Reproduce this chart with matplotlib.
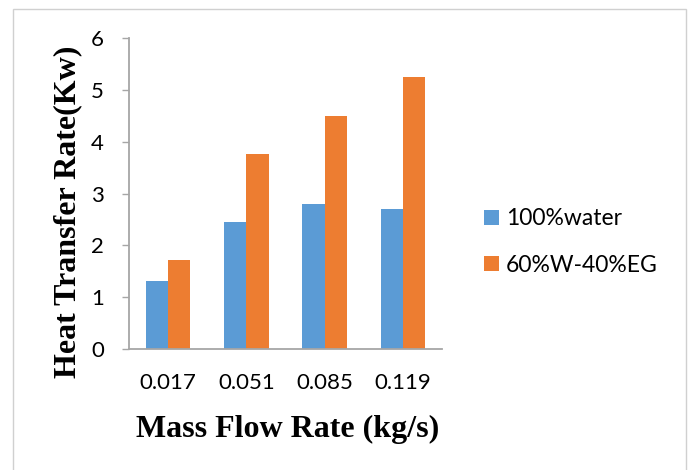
import matplotlib
matplotlib.use("Agg")
import matplotlib.pyplot as plt
from matplotlib.patches import Rectangle
import numpy as np

# data
flow_rates = ["0.017", "0.051", "0.085", "0.119"]
water = [1.32, 2.45, 2.80, 2.71]
w_eg = [1.71, 3.76, 4.50, 5.25]
series_names = ["100%water", "60%W-40%EG"]
y_ticks = [0, 1, 2, 3, 4, 5, 6]

blue = "#5B9BD5"
orange = "#ED7D31"
axis_grey = "#A6A6A6"

fig = plt.figure(figsize=(6.88, 4.70), dpi=100)
ax = fig.add_axes([0.1875, 0.2574, 0.4549, 0.6616])

x = np.arange(len(flow_rates))
w = 0.285
ax.bar(x - w / 2, water, width=w, color=blue, label=series_names[0])
ax.bar(x + w / 2, w_eg, width=w, color=orange, label=series_names[1])

ax.set_xlim(-0.5, len(flow_rates) - 0.5)
ax.set_ylim(0, 6)
ax.set_yticks(y_ticks)
ax.set_xticks(x)
ax.set_xticklabels(flow_rates)

for s in ["top", "right"]:
    ax.spines[s].set_visible(False)
for s in ["left", "bottom"]:
    ax.spines[s].set_color(axis_grey)
    ax.spines[s].set_linewidth(1.3)

ax.tick_params(axis="y", length=5, width=1, color=axis_grey, pad=13,
               labelsize=16)
ax.tick_params(axis="x", length=0, pad=17, labelsize=16)
for lab in ax.get_xticklabels() + ax.get_yticklabels():
    lab.set_fontfamily("Lato")

# axis titles placed in figure pixels to follow the reference
fig.text(288 / 688, 1 - 437 / 470, "Mass Flow Rate (kg/s)",
         fontfamily="Liberation Serif", fontweight="bold", fontsize=23,
         ha="center", va="baseline")
fig.text(68 / 688, 1 - 212 / 470, "Heat Transfer Rate(Kw)",
         fontfamily="Liberation Serif", fontweight="bold", fontsize=23,
         rotation=90, ha="center", va="center")

leg = ax.legend(loc="center left", bbox_to_anchor=(1.134, 0.344),
                frameon=False, borderaxespad=0, borderpad=0,
                prop={"family": "Lato", "size": 16.5}, handlelength=0.65,
                handleheight=0.65, handletextpad=0.3, labelspacing=1.1)

# light frame around the whole chart area
fig.patches.append(Rectangle((13 / 688, -0.1), (686 - 13) / 688, 1.1 - 9 / 470,
                             transform=fig.transFigure, fill=False,
                             edgecolor="#D0D0D0", linewidth=1))

fig.savefig("out.png", dpi=100)
